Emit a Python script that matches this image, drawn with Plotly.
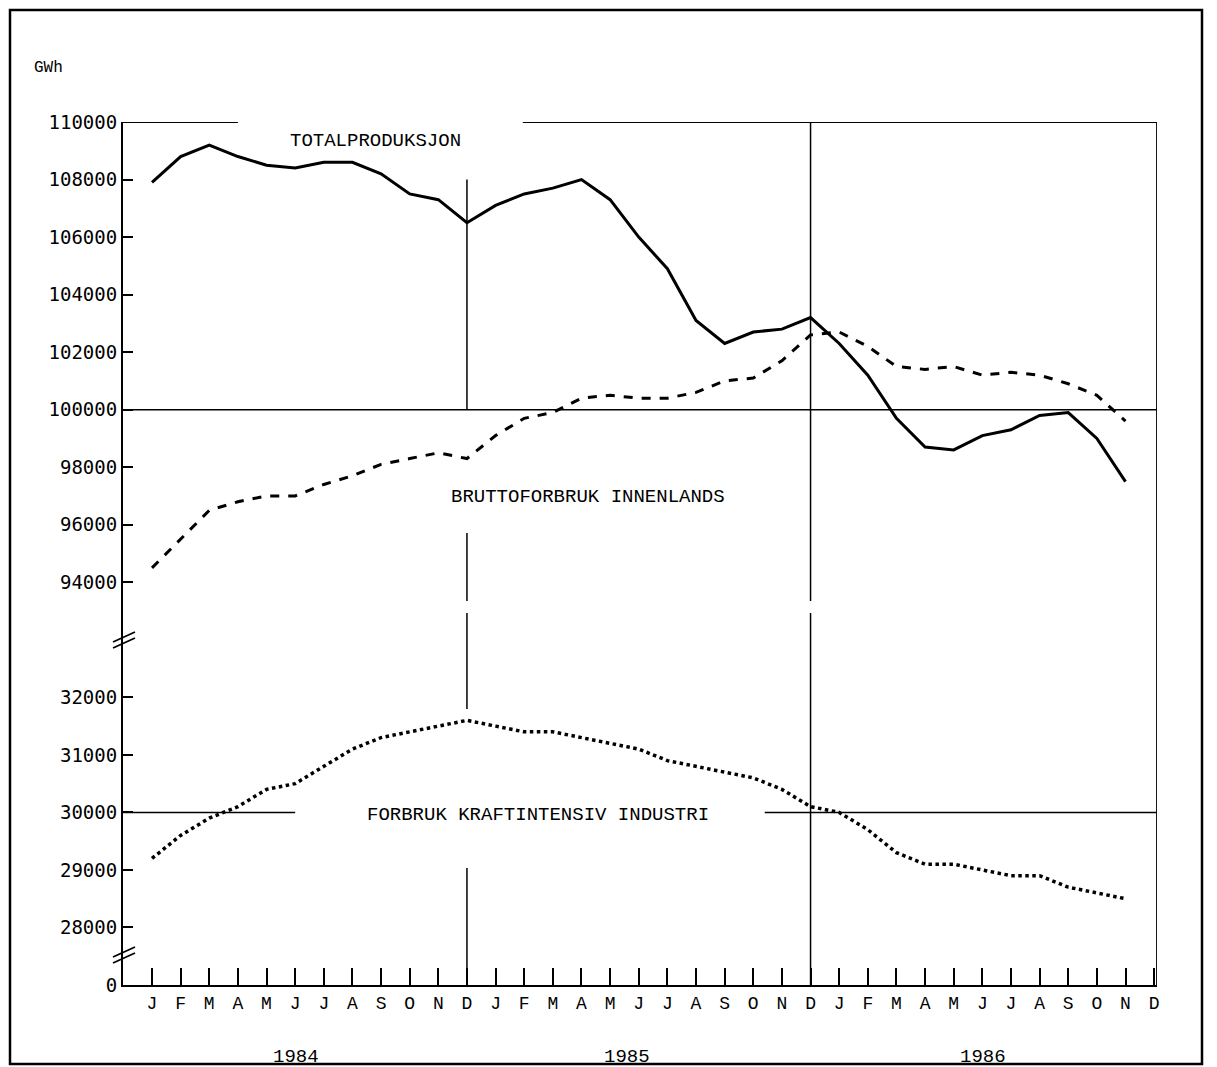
import plotly.graph_objects as go

months = ["J", "F", "M", "A", "M", "J", "J", "A", "S", "O", "N", "D"] * 3
years = ["1984", "1985", "1986"]

totalproduksjon = [107900, 108800, 109200, 108800, 108500, 108400, 108600, 108600, 108200, 107500, 107300, 106500,
                   107100, 107500, 107700, 108000, 107300, 106000, 104900, 103100, 102300, 102700, 102800, 103200,
                   102300, 101200, 99700, 98700, 98600, 99100, 99300, 99800, 99900, 99000, 97500]
bruttoforbruk = [94500, 95500, 96500, 96800, 97000, 97000, 97400, 97700, 98100, 98300, 98500, 98300,
                 99100, 99700, 99900, 100400, 100500, 100400, 100400, 100600, 101000, 101100, 101700, 102600,
                 102700, 102200, 101500, 101400, 101500, 101200, 101300, 101200, 100900, 100500, 99600]
kraftintensiv = [29200, 29600, 29900, 30100, 30400, 30500, 30800, 31100, 31300, 31400, 31500, 31600,
                 31500, 31400, 31400, 31300, 31200, 31100, 30900, 30800, 30700, 30600, 30400, 30100,
                 30000, 29700, 29300, 29100, 29100, 29000, 28900, 28900, 28700, 28600, 28500]

upper_ticks = [94000, 96000, 98000, 100000, 102000, 104000, 106000, 108000, 110000]
lower_ticks = [28000, 29000, 30000, 31000, 32000]


# broken axis: map each panel onto one linear scale
def up(v):
    return 7 + (v - 94000) / 2000


def low(v):
    return 1 + (v - 28000) / 1000


x = list(range(len(totalproduksjon)))
FONT = "Liberation Mono"
OFF = 8  # page body margin
W, H = 1217 - OFF, 1067 - OFF
L, R, T, B = 123 - OFF, 1157 - OFF, 122 - OFF, 985 - OFF


def px(xp):
    return (xp - OFF - L) / (R - L)


def py(yp):
    return (B - (yp - OFF)) / (B - T)


fig = go.Figure()
fig.add_trace(go.Scatter(x=x, y=[up(v) for v in totalproduksjon], mode="lines",
                         line=dict(color="black", width=3)))
fig.add_trace(go.Scatter(x=x, y=[up(v) for v in bruttoforbruk], mode="lines",
                         line=dict(color="black", width=3, dash="dash")))
fig.add_trace(go.Scatter(x=x, y=[low(v) for v in kraftintensiv], mode="lines",
                         line=dict(color="black", width=3.5, dash="dot")))

shapes = []


def seg(x0, y0, x1, y1, w=1.5, ref="data"):
    if ref == "data":
        shapes.append(dict(type="line", xref="x", yref="y", x0=x0, y0=y0, x1=x1, y1=y1,
                           line=dict(color="black", width=w)))
    else:
        shapes.append(dict(type="line", xref="paper", yref="paper", x0=px(x0), y0=py(y0),
                           x1=px(x1), y1=py(y1), line=dict(color="black", width=w)))


xl, xr = -1.013, 35.1
# horizontal reference lines
seg(xl, up(100000), xr, up(100000))
seg(xl, low(30000), 5.0, low(30000))
seg(21.4, low(30000), xr, low(30000))
# top border with gap for label
seg(xl, up(110000), 3.0, up(110000), 1.8)
seg(12.95, up(110000), xr, up(110000), 1.8)
# right border
seg(xr, 0, xr, up(110000), 1.8)
# vertical lines at December
seg(11, up(108000), 11, up(100000))
seg(11, py(533) * 15, 11, py(601) * 15)
seg(11, py(613) * 15, 11, py(709) * 15)
seg(11, py(868) * 15, 11, 0)
seg(23, up(110000), 23, py(601) * 15)
seg(23, py(613) * 15, 23, 0)
# axis break marks
for yb in (640, 955):
    seg(113, yb + 2, 135, yb - 8, 1.8, "px")
    seg(113, yb + 8, 135, yb - 2, 1.8, "px")
# outer frame
shapes.append(dict(type="rect", xref="paper", yref="paper", x0=px(10), y0=py(1064), x1=px(1202), y1=py(10),
                   line=dict(color="black", width=2.5)))

fig.update_layout(
    width=W, height=H, showlegend=False,
    plot_bgcolor="white", paper_bgcolor="white",
    margin=dict(l=L, r=W - R, t=T, b=H - B),
    shapes=shapes,
    font=dict(family=FONT, color="black", size=18),
    xaxis=dict(range=[xl, xr], tickvals=x + [35], ticktext=months, ticks="inside", ticklen=17,
               tickwidth=1.8, tickcolor="black", showgrid=False, zeroline=False,
               showline=True, linecolor="black", linewidth=2, tickfont=dict(size=18, family=FONT)),
    yaxis=dict(range=[0, 15],
               tickvals=[0] + [low(v) for v in lower_ticks] + [up(v) for v in upper_ticks],
               ticktext=["0"] + [str(v) for v in lower_ticks] + [str(v) for v in upper_ticks],
               ticks="inside", ticklen=10, tickwidth=1.8, tickcolor="black",
               showgrid=False, zeroline=False, showline=True, linecolor="black", linewidth=2,
               tickfont=dict(size=19, family="DejaVu Sans Mono")),
)

ann = [
    ("GWh", 48, 68, 16),
    ("TOTALPRODUKSJON", 375, 141, 19),
    ("BRUTTOFORBRUK INNENLANDS", 588, 497, 19),
    ("FORBRUK KRAFTINTENSIV INDUSTRI", 538, 815, 19),
    (years[0], 296, 1057, 19),
    (years[1], 627, 1057, 19),
    (years[2], 983, 1057, 19),
]
for txt, ax_, ay_, sz in ann:
    fig.add_annotation(text=txt, xref="paper", yref="paper", x=px(ax_), y=py(ay_),
                       showarrow=False, xanchor="center", yanchor="middle",
                       font=dict(family=FONT, size=sz, color="black"))

fig.write_html("out.html")
